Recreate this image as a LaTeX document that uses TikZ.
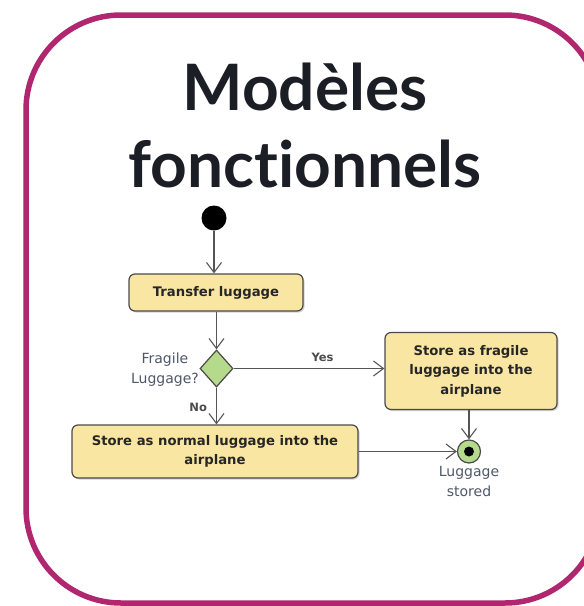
\documentclass[tikz,border=0pt]{standalone}
\usepackage{fontspec}
\setmainfont{DejaVu Sans}
\newfontfamily\titlefont[Ligatures={NoCommon,NoRare,NoDiscretionary}]{Lato}
\usetikzlibrary{arrows.meta,shapes.geometric,shadows}
\definecolor{framec}{HTML}{B0276F}
\definecolor{titlec}{HTML}{1B1E24}
\definecolor{boxfill}{HTML}{F9E6A3}
\definecolor{boxline}{HTML}{4A4A4A}
\definecolor{decfill}{HTML}{B6DA8C}
\definecolor{lblc}{HTML}{4E5868}
\definecolor{arrc}{HTML}{555555}
\tikzset{
  x=1pt,y=-1pt,
  actbox/.style={draw=boxline,line width=1.2pt,fill=boxfill,rounded corners=6pt,
     drop shadow={shadow xshift=1.5pt,shadow yshift=-1.5pt,opacity=0.35},
     align=center,font=\bfseries\fontsize{13.2}{19.5}\selectfont,text=black!85,inner sep=0pt},
  flow/.style={draw=arrc,line width=1.1pt,-{Straight Barb[length=10pt,width=15pt,line width=1.1pt]}},
  lbl/.style={font=\fontsize{14}{20}\selectfont,text=lblc,align=center,inner sep=0pt},
  guard/.style={font=\bfseries\fontsize{11.5}{12}\selectfont,text=black!70,inner sep=0pt}
}
\begin{document}
\begin{tikzpicture}
\useasboundingbox (0,0) rectangle (584,606);
\fill[white] (0,0) rectangle (584,606);
\begin{scope}
\clip (0,0) rectangle (584,606);
\draw[framec,line width=5.5pt,rounded corners=95pt] (26,15) rectangle (600,603);
\end{scope}
\node[font=\titlefont\bfseries\fontsize{64}{77}\selectfont,text=titlec,anchor=base] (title1) at (305,110) {Modèles};
\node[font=\titlefont\bfseries\fontsize{64}{77}\selectfont,text=titlec,anchor=base] (title2) at (305,187) {fonctionnels};

\node[circle,fill=black,minimum size=25pt,inner sep=0pt] (init) at (214,218) {};
\node[actbox,minimum width=174pt,minimum height=37pt] (transfer) at (216,292.5) {Transfer luggage};
\node[diamond,draw=boxline,line width=1.2pt,fill=decfill,minimum width=33pt,minimum height=37pt,inner sep=0pt] (dec) at (216.5,368.5) {};
\node[lbl,anchor=east] (declbl) at (199,370) {Fragile\\Luggage?};
\node[actbox,minimum width=172pt,minimum height=77pt] (fragile) at (471,371) {Store as fragile\\luggage into the\\airplane};
\node[actbox,minimum width=286pt,minimum height=53pt] (normal) at (215,451.5) {Store as normal luggage into the\\airplane};
\node[circle,draw=boxline,line width=1.2pt,fill=decfill,minimum size=23pt,inner sep=0pt] (final) at (469,451.5) {};
\node[circle,fill=black,minimum size=10pt,inner sep=0pt] (finaldot) at (final.center) {};
\node[lbl,anchor=north] (finallbl) at (469,466) {Luggage\\stored};

\draw[flow] (init) -- (transfer.north -| init);
\draw[flow] (transfer.south -| dec) -- (dec.north);
\draw[flow] (dec.east) -- (fragile.west |- dec.east) node[guard,pos=0.59,above=6pt] (yes) {Yes};
\draw[flow] (dec.south) -- (normal.north -| dec) node[guard,pos=0.55,left=9pt] (no) {No};
\draw[flow] (normal.east |- final) -- (final.west);
\draw[flow] (fragile.south -| final) -- (final.north);
\end{tikzpicture}
\end{document}
